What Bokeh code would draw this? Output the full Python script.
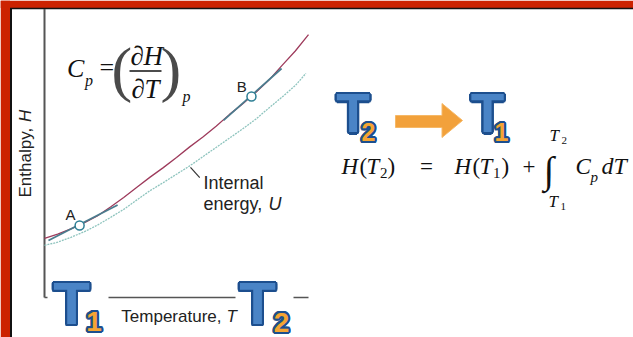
import math
from bokeh.plotting import figure
from bokeh.models import Range1d
from bokeh.embed import file_html
from bokeh.resources import INLINE
from bokeh.core.properties import value

# ---------------- data (arbitrary units: temperature 0-100 along the axis, enthalpy 0-100 up the axis)
temperature = [0, 5, 10, 15, 20, 25, 30, 35, 40, 45, 50, 55, 60, 65, 70, 75, 80, 85, 90, 95, 100]
enthalpy = [20.5, 22.0, 23.8, 25.9, 28.3, 31.4, 34.7, 38.3, 41.8, 45.1, 48.6,
            52.3, 55.7, 59.5, 63.5, 67.2, 71.2, 75.5, 80.6, 85.6, 91.3]
temperature_u = [0, 5, 10, 15, 20, 25, 30, 35, 40, 45, 50, 55, 60, 65, 70, 75, 80, 85, 90, 95, 99]
internal_energy = [18.1, 19.2, 20.9, 22.8, 25.1, 27.8, 30.6, 33.9, 37.1, 39.9, 42.8,
                   45.7, 48.9, 52.1, 55.3, 58.5, 61.9, 65.8, 69.6, 73.6, 77.8]
point_names = ["A", "B"]
point_temperature = [13.3, 78.4]
point_enthalpy = [25.0, 69.8]
tangent_temperature = [[1.5, 27.7], [67.8, 89.8]]
tangent_enthalpy = [[19.8, 32.1], [61.5, 79.5]]
leader_temperature = [55.3, 58.8]
leader_enthalpy = [45.2, 41.6]
axis_max = 100

x_label = ["Temperature,", "T"]
y_label = ["Enthalpy,", "H"]
curve_label = ["Internal", "energy,", "U"]

# ---------------- layout helpers (reference-pixel position -> data units)
PX_T, PX_H = 2.64, 2.88
OX, OY = 44, 297
W, H = 633, 337
K = 0.33  # renderer places the alphabetic baseline about a third of an em low


def tx(X):
    return (X - OX) / PX_T


def hy(Y):
    return (OY - Y) / PX_H


RED = "#CC2200"
p = figure(width=W, height=H, output_backend="svg", toolbar_location=None,
           x_range=Range1d(tx(0), tx(W)), y_range=Range1d(hy(H), hy(0)),
           x_axis_location=None, y_axis_location=None,
           min_border=0, border_fill_color="white",
           background_fill_color="white", outline_line_color=None)
p.min_border_left = 0
p.min_border_right = 0
p.min_border_top = 0
p.min_border_bottom = 0
p.grid.visible = False

# slide frame: red margin with a dark edge on the left and top
p.quad(left=[tx(0), tx(0)], right=[tx(9.5), tx(W)], bottom=[hy(H), hy(7.5)], top=[hy(0), hy(0)],
       fill_color=RED, line_color=None)
p.quad(left=[tx(626)], right=[tx(W + 2)], bottom=[hy(H + 2)], top=[hy(8.5)],
       fill_color="white", line_color=None)
p.line([tx(10.5), tx(10.5)], [hy(H), hy(8)], line_color="#111111", line_width=2)
p.line([tx(9.5), tx(W)], [hy(8), hy(8)], line_color="#111111", line_width=1.3)


def txt(X, Y, s, size, font="Liberation Sans", style="normal", align="left",
        color="#222222", vertical=False):
    if vertical:
        X = X - K * size
    else:
        Y = Y - K * size
    p.text(x=[tx(X)], y=[hy(Y)], text=[s], angle=(math.pi / 2 if vertical else 0.0),
           text_font=value(font), text_font_size=value(f"{size}px"),
           text_font_style=style, text_align=align, text_baseline="alphabetic",
           text_color=color)


def outlined(X, Y, s, size, fill, edge, r=2.2, n=16):
    Y = Y - K * size
    xo = [r * math.cos(2 * math.pi * k / n) for k in range(n)]
    yo = [r * math.sin(2 * math.pi * k / n) for k in range(n)]
    p.text(x=[tx(X)] * n, y=[hy(Y)] * n, text=[s] * n, x_offset=xo, y_offset=yo,
           text_font=value("Liberation Sans"), text_font_size=value(f"{size}px"),
           text_font_style="bold", text_align="center", text_baseline="alphabetic",
           text_color=edge)
    p.text(x=[tx(X)], y=[hy(Y)], text=[s],
           text_font=value("Liberation Sans"), text_font_size=value(f"{size}px"),
           text_font_style="bold", text_align="center", text_baseline="alphabetic",
           text_color=fill)


# ---------------- axes
AXC = "#555555"
p.line([0, 0], [0, hy(8.5)], line_color=AXC, line_width=2)
p.line([0, axis_max], [0, 0], line_color=AXC, line_width=1.5)

# ---------------- curves
p.line(temperature_u, internal_energy, line_color="#8EC4BE", line_width=1.3, line_dash="2 1")
p.line(temperature, enthalpy, line_color="#9E3B5C", line_width=1.3)
p.multi_line(tangent_temperature, tangent_enthalpy, line_color="#4A7C8E", line_width=1.8)
p.scatter(point_temperature, point_enthalpy, size=9, fill_color="white",
          line_color="#2E7F95", line_width=1.5)
p.line(leader_temperature, leader_enthalpy, line_color="#333333", line_width=1.2)

# point labels
txt(70, 219, point_names[0], 15, align="center")
txt(241.3, 91, point_names[1], 15, align="center")

# curve label
txt(203, 188.5, curve_label[0], 18)
txt(203, 209, curve_label[1], 18)
txt(268, 209, curve_label[2], 18, style="italic")

# axis labels
txt(221, 321.5, x_label[0], 17, align="right")
txt(226, 321.5, x_label[1], 17, style="italic")
txt(30.5, 197, y_label[0], 17, vertical=True)
txt(30.5, 121.5, y_label[1], 17, style="italic", vertical=True)

# ---------------- formula Cp = (dH/dT)_p
SER = "Liberation Serif"
BLK = "#111111"
PAR = "#4a4a4a"
txt(66.5, 77, "C", 26, font=SER, style="italic", color=BLK)
txt(84.5, 85, "p", 16, font=SER, style="italic", color=BLK)
txt(99, 76, "=", 26, font=SER, color=BLK)
txt(111, 89, "(", 62, font=SER, color=PAR)
txt(130, 64, "\u2202", 27, font=SER, color=BLK)
txt(143, 64, "H", 27, font=SER, style="italic", color=BLK)
p.line([tx(129), tx(161)], [hy(70.5), hy(70.5)], line_color=BLK, line_width=1.3)
txt(131, 97, "\u2202", 27, font=SER, color=BLK)
txt(144, 97, "T", 27, font=SER, style="italic", color=BLK)
txt(160, 89, ")", 62, font=SER, color=PAR)
txt(182, 101, "p", 16, font=SER, style="italic", color=BLK)

# ---------------- equation H(T2) = H(T1) + int Cp dT
EB = 173.5
txt(341, EB, "H", 23, font=SER, style="italic", color=BLK)
txt(359, EB, "(", 23, font=SER, color=BLK)
txt(366, EB, "T", 23, font=SER, style="italic", color=BLK)
txt(379.5, 177.5, "2", 15, font=SER, color=BLK)
txt(387, EB, ")", 23, font=SER, color=BLK)
txt(419.5, EB, "=", 23, font=SER, color=BLK)
txt(454, EB, "H", 23, font=SER, style="italic", color=BLK)
txt(472, EB, "(", 23, font=SER, color=BLK)
txt(479, EB, "T", 23, font=SER, style="italic", color=BLK)
txt(492.5, 177.5, "1", 15, font=SER, color=BLK)
txt(501, EB, ")", 23, font=SER, color=BLK)
txt(522, EB, "+", 23, font=SER, color=BLK)
txt(543, 182, "\u222b", 38, font=SER, color=BLK)
txt(549, 141, "T", 17, font=SER, style="italic", color=BLK)
txt(561, 144, "2", 11, font=SER, color=BLK)
txt(548, 207, "T", 17, font=SER, style="italic", color=BLK)
txt(560, 210, "1", 11, font=SER, color=BLK)
txt(575, EB, "C", 23, font=SER, style="italic", color=BLK)
txt(590, 181, "p", 15, font=SER, style="italic", color=BLK)
txt(601, EB, "dT", 24, font=SER, style="italic", color=BLK)

# ---------------- orange arrow T2 -> T1
arrow_x = [395, 441.5, 441.5, 462, 441.5, 441.5, 395]
arrow_y = [115, 115, 103, 120, 137, 127, 127]
p.patch([tx(v) for v in arrow_x], [hy(v) for v in arrow_y],
        fill_color="#F2A13B", line_color="#F6B866", line_width=1)

# ---------------- big T1 / T2 marks
BLUE, EDGE, ORANGE = "#4A84C6", "#1D4F8E", "#F5A533"
# white gaps in the temperature axis behind the bottom marks
p.quad(left=[tx(47), tx(235)], right=[tx(108), tx(293)], bottom=[hy(302)] * 2, top=[hy(292)] * 2,
       fill_color="white", line_color=None)
outlined(71, 323, "T", 60, BLUE, EDGE)
outlined(93.5, 330, "1", 28, ORANGE, EDGE)
outlined(257, 323, "T", 60, BLUE, EDGE)
outlined(281, 331, "2", 28, ORANGE, EDGE)
outlined(352.5, 131, "T", 55, BLUE, EDGE)
outlined(368, 140, "2", 25, ORANGE, EDGE)
outlined(487, 131, "T", 55, BLUE, EDGE)
outlined(501, 140, "1", 25, ORANGE, EDGE)

open("out.html", "w").write(file_html(p, INLINE))
